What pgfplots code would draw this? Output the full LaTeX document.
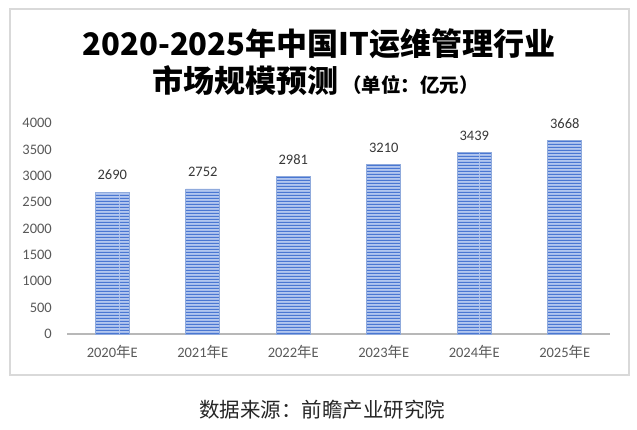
\documentclass[border=0pt]{standalone}
\usepackage{fontspec}
\usepackage{pgfplots}
\pgfplotsset{compat=1.18}
\usetikzlibrary{patterns}
\setmainfont{Carlito}
\newfontfamily\cjk{Noto Sans CJK SC}
\definecolor{barlight}{HTML}{B3C7EF}
\definecolor{bardark}{HTML}{4A77D2}
\definecolor{baredge}{HTML}{8FAADC}
\definecolor{ticktext}{HTML}{595959}
\definecolor{boxgray}{HTML}{D9D9D9}
\pgfdeclarepatternformonly{hstripes}{\pgfqpoint{0bp}{0bp}}{\pgfqpoint{120bp}{3bp}}{\pgfqpoint{120bp}{3bp}}{%
  \pgfpathrectangle{\pgfqpoint{0bp}{0bp}}{\pgfqpoint{120bp}{1.5bp}}\pgfusepath{fill}}
\newcommand\nian{{\cjk 年}}
\begin{document}
\begin{tikzpicture}[x=1bp,y=1bp]
\path[use as bounding box] (0,0) rectangle (637,429);
\fill[white] (0,0) rectangle (637,429);
\draw[boxgray, line width=1.2bp] (10,54) rectangle (629,420);
\begin{axis}[
  at={(67bp,95bp)}, anchor=south west,
  scale only axis, width=543bp, height=211bp,
  xmin=-0.5, xmax=5.5, ymin=0, ymax=4000,
  axis lines*=left, axis line style={-},
  y axis line style={draw=none},
  x axis line style={draw=black!28, line width=1.6bp},
  ytick={0,500,...,4000},
  xtick={0,...,5},
  xticklabels={2020\nian E,2021\nian E,2022\nian E,2023\nian E,2024\nian E,2025\nian E},
  major tick length=0pt,
  /pgf/number format/assume math mode=true,
  /pgf/number format/set thousands separator={},
  ticklabel style={font=\fontsize{14.5bp}{16bp}\selectfont, text=ticktext, inner sep=0pt},
  yticklabel style={anchor=east, xshift=-15bp},
  xticklabel style={anchor=north, yshift=-11.5bp},
  ybar, bar width=34bp,
  nodes near coords,
  nodes near coords style={font=\fontsize{14.5bp}{16bp}\selectfont, text=black!78, anchor=south, inner sep=0pt, yshift=12bp, /pgf/number format/assume math mode=true, /pgf/number format/set thousands separator={}},
  clip=false,
]
\addplot[draw=baredge, line width=0.6bp, fill=barlight,
  postaction={pattern=hstripes, pattern color=bardark}]
  coordinates {(0,2690) (1,2752) (2,2981) (3,3210) (4,3439) (5,3668)};
\end{axis}
\node[font=\cjk\bfseries\fontsize{31bp}{34bp}\selectfont, text=black] at (319,385) {2020-2025年中国IT运维管理行业};
\node[font=\cjk\bfseries\fontsize{31bp}{34bp}\selectfont, text=black] at (315.5,348) {市场规模预测\hspace{4bp}{\fontsize{19.5bp}{20bp}\selectfont （单位：亿元）}};
\node[font=\cjk\fontsize{20.5bp}{24bp}\selectfont, text=black!85] at (322,19) {数据来源：前瞻产业研究院};
\end{tikzpicture}
\end{document}
